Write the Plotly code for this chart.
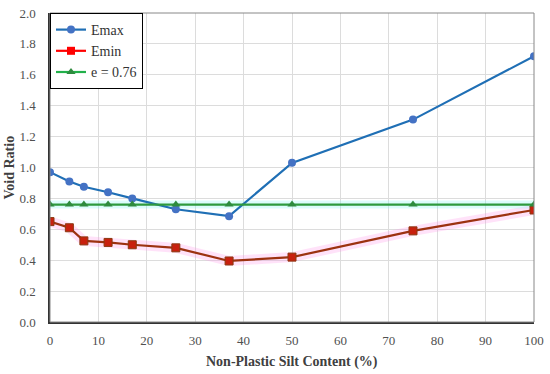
import plotly.graph_objects as go

silt = [0, 4, 7, 12, 17, 26, 37, 50, 75, 100]
emax = [0.97, 0.91, 0.875, 0.84, 0.80, 0.73, 0.685, 1.03, 1.31, 1.72]
emin = [0.65, 0.61, 0.525, 0.515, 0.50, 0.48, 0.395, 0.42, 0.59, 0.725]
e_const = [0.76] * len(silt)

x_ticks = list(range(0, 101, 10))
y_ticks = [round(0.2 * i, 1) for i in range(11)]

font_fam = "Liberation Serif"

fig = go.Figure()

# glow effects
fig.add_trace(go.Scatter(x=silt, y=emin, mode="lines", line=dict(color="rgba(255,140,230,0.25)", width=10),
                         showlegend=False, hoverinfo="skip"))
fig.add_trace(go.Scatter(x=silt, y=e_const, mode="lines", line=dict(color="rgba(140,245,245,0.3)", width=8),
                         showlegend=False, hoverinfo="skip"))

fig.add_trace(go.Scatter(x=silt, y=emax, mode="lines+markers", name="Emax",
                         line=dict(color="#1f6fb5", width=2.2),
                         marker=dict(symbol="circle", size=8, color="#4472c4"),
                         showlegend=False))
fig.add_trace(go.Scatter(x=silt, y=emin, mode="lines+markers", name="Emin",
                         line=dict(color="#9c3210", width=2.2),
                         marker=dict(symbol="square", size=8, color="#c8200e", line=dict(color="#8a3a10", width=1)),
                         showlegend=False))
fig.add_trace(go.Scatter(x=silt, y=e_const, mode="lines+markers", name="e = 0.76",
                         line=dict(color="#2e9a3e", width=2.2),
                         marker=dict(symbol="triangle-up", size=8, color="#2e8b3e"),
                         showlegend=False))

# legend entries
fig.add_trace(go.Scatter(x=[None], y=[None], mode="lines+markers", name="Emax",
                         line=dict(color="#1f6fb5", width=2.2),
                         marker=dict(symbol="circle", size=8, color="#4472c4")))
fig.add_trace(go.Scatter(x=[None], y=[None], mode="lines+markers", name="Emin",
                         line=dict(color="#ff0000", width=2.2),
                         marker=dict(symbol="square", size=8, color="#ff0000")))
fig.add_trace(go.Scatter(x=[None], y=[None], mode="lines+markers", name="e = 0.76",
                         line=dict(color="#22b04a", width=2.2),
                         marker=dict(symbol="triangle-up", size=8, color="#2e8b3e")))

fig.add_shape(type="rect", xref="paper", yref="paper", x0=0, y0=0, x1=1, y1=1,
              line=dict(color="#888888", width=1))

fig.add_annotation(text="<b>Non-Plastic Silt Content (%)</b>", xref="paper", yref="paper",
                   x=0.5, y=0, yshift=-40, yanchor="middle", showarrow=False,
                   font=dict(family=font_fam, size=14, color="#404040"))
fig.add_annotation(text="<b>Void Ratio</b>", xref="paper", yref="paper",
                   x=0, y=0.5, xshift=-41, xanchor="center", yanchor="middle",
                   textangle=-90, showarrow=False,
                   font=dict(family=font_fam, size=14, color="#404040"))

fig.update_layout(
    width=550, height=374,
    margin=dict(l=50, r=16, t=13, b=52),
    paper_bgcolor="white", plot_bgcolor="white",
    font=dict(family=font_fam, size=13, color="#404040"),
    legend=dict(x=0, y=1, xanchor="left", yanchor="top",
                bgcolor="white", bordercolor="black", borderwidth=1,
                font=dict(family=font_fam, size=14, color="#333333"),
                tracegroupgap=4, itemwidth=30),
    xaxis=dict(range=[0, 100], tickvals=x_ticks, ticktext=[str(v) for v in x_ticks],
               showgrid=True, gridcolor="#dcdcdc", gridwidth=1, automargin=False,
               showline=True, linecolor="#333333", linewidth=1.5, zeroline=False,
               ticks="outside", ticklen=6, tickcolor="rgba(0,0,0,0)",
               tickfont=dict(family=font_fam, size=13, color="#505050")),
    yaxis=dict(range=[0, 2.0], tickvals=y_ticks, ticktext=[f"{v:.1f}" for v in y_ticks],
               showgrid=True, gridcolor="#dcdcdc", gridwidth=1, automargin=False,
               showline=True, linecolor="#333333", linewidth=1.5, zeroline=False,
               ticks="outside", ticklen=10, tickcolor="rgba(0,0,0,0)",
               tickfont=dict(family=font_fam, size=13, color="#505050")),
)

fig.write_html("out.html", config={"displayModeBar": False},
               post_script="document.body.style.margin='0px';")
